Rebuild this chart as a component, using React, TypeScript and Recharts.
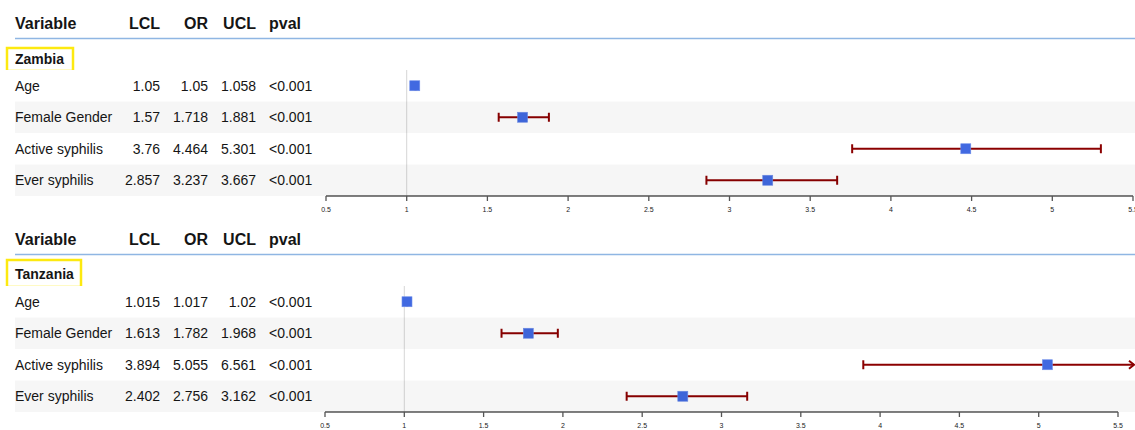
import React from "react";
import { ComposedChart, XAxis, YAxis, Scatter, ReferenceLine } from "recharts";

const VARIABLES = ["Age", "Female Gender", "Active syphilis", "Ever syphilis"];
const PVALS = ["<0.001", "<0.001", "<0.001", "<0.001"];

const ZAMBIA_LCL = [1.05, 1.57, 3.76, 2.857];
const ZAMBIA_OR = [1.05, 1.718, 4.464, 3.237];
const ZAMBIA_UCL = [1.058, 1.881, 5.301, 3.667];

const TANZANIA_LCL = [1.015, 1.613, 3.894, 2.402];
const TANZANIA_OR = [1.017, 1.782, 5.055, 2.756];
const TANZANIA_UCL = [1.02, 1.968, 6.561, 3.162];

const X_TICKS = [0.5, 1, 1.5, 2, 2.5, 3, 3.5, 4, 4.5, 5, 5.5];
const COLUMNS = ["Variable", "LCL", "OR", "UCL", "pval"];

const W = 1135;
const FONT = '"Liberation Sans", Arial, sans-serif';
const BOX_COLOR = "#fde910";
const CI_COLOR = "#8b0000";
const OR_COLOR = "#4169e1";
const HEAD_LINE = "#8fb6e3";
const BAND_FILL = "rgba(0,0,0,0.035)";
const TEXT = "#151515";

const PLOT_TOP = 70;
const PLOT_H = 126;
const AXIS_H = 24;
const ROW_H = PLOT_H / VARIABLES.length;

// x anchor + text-anchor for each table column
const COL_POS: [number, "start" | "end"][] = [
  [15, "start"],
  [160, "end"],
  [208, "end"],
  [256, "end"],
  [269, "start"],
];

type Row = { name: string; lcl: number; or: number; ucl: number; pval: string };

function buildRows(lcl: number[], or: number[], ucl: number[]): Row[] {
  return VARIABLES.map((name, i) => ({ name, lcl: lcl[i], or: or[i], ucl: ucl[i], pval: PVALS[i] }));
}

const ZAMBIA = buildRows(ZAMBIA_LCL, ZAMBIA_OR, ZAMBIA_UCL);
const TANZANIA = buildRows(TANZANIA_LCL, TANZANIA_OR, TANZANIA_UCL);

function CIShape(props: any) {
  const { x1, x2, y1 } = props;
  const maxX = W - 1;
  const clipped = x2 > maxX;
  const right = clipped ? maxX : x2;
  return (
    <g stroke={CI_COLOR} strokeWidth={2} fill="none">
      <line x1={x1} y1={y1} x2={right} y2={y1} />
      <line x1={x1} y1={y1 - 4.5} x2={x1} y2={y1 + 4.5} />
      {clipped ? (
        <polyline points={`${right - 5},${y1 - 4} ${right},${y1} ${right - 5},${y1 + 4}`} />
      ) : (
        <line x1={right} y1={y1 - 4.5} x2={right} y2={y1 + 4.5} />
      )}
    </g>
  );
}

function Square(props: any) {
  const { cx, cy } = props;
  return <rect x={cx - 5} y={cy - 5} width={10} height={10} fill={OR_COLOR} stroke="#6f8eea" strokeWidth={0.6} />;
}

function makeTick(rows: Row[]) {
  return (props: any) => {
    const { y, payload } = props;
    const idx = rows.findIndex((r) => r.name === payload.value);
    const r = rows[idx];
    if (!r) return null;
    const cells = [r.name, String(r.lcl), String(r.or), String(r.ucl), r.pval];
    return (
      <g>
        {idx % 2 === 1 && <rect x={15} y={y - ROW_H / 2} width={W - 15} height={ROW_H} fill={BAND_FILL} />}
        {cells.map((c, i) => (
          <text key={i} x={COL_POS[i][0]} y={y + 5} textAnchor={COL_POS[i][1]} fontSize={14} fill={TEXT}>
            {c}
          </text>
        ))}
      </g>
    );
  };
}

function ForestPanel({
  title,
  rows,
  top,
  boxY,
  boxH,
  boxW,
  titleY,
  yAxisW,
  rightM,
}: {
  title: string;
  rows: Row[];
  top: number;
  boxY: number;
  boxH: number;
  boxW: number;
  titleY: number;
  yAxisW: number;
  rightM: number;
}) {
  const h = PLOT_TOP + PLOT_H + AXIS_H;
  return (
    <div style={{ position: "absolute", left: 0, top, width: W, height: h }}>
      <svg style={{ position: "absolute", left: 0, top: 0 }} width={W} height={PLOT_TOP}>
        {COLUMNS.map((c, i) => (
          <text key={c} x={COL_POS[i][0]} y={29} textAnchor={COL_POS[i][1]} fontSize={16} fontWeight="bold" fill={TEXT}>
            {c}
          </text>
        ))}
        <line x1={15} x2={W} y1={38.5} y2={38.5} stroke={HEAD_LINE} strokeWidth={1.5} />
        <rect x={7} y={boxY} width={boxW} height={boxH} fill="none" stroke={BOX_COLOR} strokeWidth={2.5} />
        <text x={15} y={titleY} fontSize={14} fontWeight="bold" fill={TEXT}>
          {title}
        </text>
      </svg>
      <div style={{ position: "absolute", left: 0, top: 0 }}>
        <ComposedChart
          width={W}
          height={h}
          data={rows}
          layout="vertical"
          margin={{ top: PLOT_TOP, right: rightM, bottom: 0, left: 0 }}
        >
          <XAxis
            type="number"
            domain={[0.5, 5.5]}
            ticks={X_TICKS}
            allowDataOverflow
            interval={0}
            height={AXIS_H}
            tickSize={5}
            tickMargin={6}
            tick={{ fontSize: 7, fill: "#222" }}
            axisLine={{ stroke: "#555", strokeWidth: 1.3 }}
            tickLine={{ stroke: "#555", strokeWidth: 1.3 }}
          />
          <YAxis
            type="category"
            dataKey="name"
            scale="band"
            width={yAxisW}
            interval={0}
            axisLine={false}
            tickLine={false}
            tick={makeTick(rows)}
          />
          <ReferenceLine x={1} stroke="#d6d6d6" strokeWidth={1} />
          {rows.map((r) => (
            <ReferenceLine
              key={r.name}
              segment={[
                { x: r.lcl, y: r.name },
                { x: r.ucl, y: r.name },
              ]}
              ifOverflow="visible"
              shape={CIShape}
              zIndex={400}
            />
          ))}
          <Scatter dataKey="or" shape={Square} isAnimationActive={false} zIndex={700} />
        </ComposedChart>
      </div>
    </div>
  );
}

export default function App() {
  return (
    <div
      style={{
        position: "absolute",
        left: 0,
        top: 0,
        width: W,
        height: 430,
        background: "#fff",
        fontFamily: FONT,
        overflow: "hidden",
      }}
    >
      <ForestPanel title="Zambia" rows={ZAMBIA} top={0} boxY={48} boxH={23} boxW={66} titleY={64} yAxisW={326} rightM={2} />
      <ForestPanel title="Tanzania" rows={TANZANIA} top={216} boxY={44} boxH={27} boxW={74} titleY={63} yAxisW={325} rightM={17} />
    </div>
  );
}
